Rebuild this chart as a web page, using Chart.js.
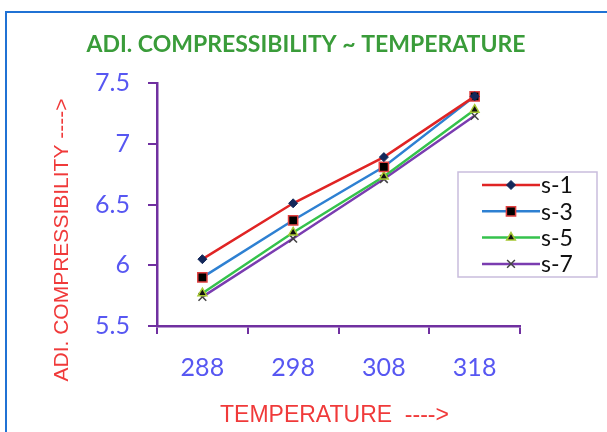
<!DOCTYPE html>
<html>
<head>
<meta charset="utf-8">
<script src="https://cdn.jsdelivr.net/npm/chart.js@4/dist/chart.umd.min.js"></script>
<style>
    html, body { margin: 0; padding: 0; background: #ffffff; }
    #wrap { width: 607px; height: 432px; }
</style>
</head>
<body>
<div id="wrap"><canvas id="chart" width="607" height="432"></canvas></div>
<script>
// data
const temperatures = ['288', '298', '308', '318'];
const seriesNames = ['s-1', 's-3', 's-5', 's-7'];
const s1 = [6.05, 6.51, 6.89, 7.39];
const s3 = [5.90, 6.37, 6.81, 7.39];
const s5 = [5.77, 6.27, 6.73, 7.28];
const s7 = [5.74, 6.22, 6.71, 7.23];
const yMin = 5.5, yMax = 7.5, yStep = 0.5;

const chartTitle = 'ADI. COMPRESSIBILITY ~ TEMPERATURE';
const xTitle = 'TEMPERATURE  ---->';
const yTitle = 'ADI. COMPRESSIBILITY ---->';

const AXIS = '#7030a0';
const TICK_TXT = '#5757f2';
const RED_TXT = '#f03a3a';

// frame, titles and the little legend box (Excel style)
const decor = {
    id: 'decor',
    beforeDraw(chart) {
        const ctx = chart.ctx;
        ctx.save();
        ctx.strokeStyle = '#2072d4';
        ctx.lineWidth = 2;
        ctx.strokeRect(6, 12, 700, 500);
        ctx.restore();
    },
    afterDraw(chart) {
        const ctx = chart.ctx;
        ctx.save();

        ctx.fillStyle = '#3a9c3a';
        ctx.font = 'bold 23px Lato';
        ctx.textAlign = 'center';
        ctx.textBaseline = 'middle';
        ctx.fillText(chartTitle, 306, 45);

        ctx.fillStyle = RED_TXT;
        ctx.font = '23px "Liberation Sans"';
        ctx.textAlign = 'left';
        ctx.fillText(xTitle, 220, 416);

        ctx.translate(62, 240);
        ctx.rotate(-Math.PI / 2);
        ctx.font = '21px "Liberation Sans"';
        ctx.textAlign = 'center';
        ctx.fillText(yTitle, 0, 0);
        ctx.restore();

        // legend
        ctx.save();
        ctx.fillStyle = '#ffffff';
        ctx.fillRect(458, 172, 139, 105);
        ctx.strokeStyle = '#c9bddd';
        ctx.lineWidth = 1.5;
        ctx.strokeRect(458, 172, 139, 105);
        chart.data.datasets.forEach((ds, i) => {
            const y = 185 + i * 26.3;
            ctx.strokeStyle = ds.borderColor;
            ctx.lineWidth = ds.borderWidth;
            ctx.beginPath();
            ctx.moveTo(482, y);
            ctx.lineTo(540, y);
            ctx.stroke();
            ctx.fillStyle = ds.pointBackgroundColor;
            ctx.strokeStyle = ds.pointBorderColor;
            ctx.lineWidth = ds.pointBorderWidth;
            Chart.helpers.drawPoint(ctx, {
                pointStyle: ds.pointStyle,
                radius: ds.pointRadius,
                rotation: 0,
                borderWidth: ds.pointBorderWidth
            }, 511, y);
            ctx.fillStyle = '#111111';
            ctx.font = '23px Lato';
            ctx.textAlign = 'left';
            ctx.textBaseline = 'middle';
            ctx.fillText(ds.label, 541, y + 1);
        });
        ctx.restore();
    }
};

function makeSeries(label, values, color, style, radius, fill, edge, edgeW) {
    return {
        label: label,
        data: values,
        borderColor: color,
        borderWidth: 2.5,
        pointStyle: style,
        pointRadius: radius,
        pointHoverRadius: radius,
        pointBackgroundColor: fill,
        pointBorderColor: edge,
        pointBorderWidth: edgeW,
        tension: 0,
        fill: false
    };
}

new Chart(document.getElementById('chart'), {
    type: 'line',
    data: {
        labels: temperatures,
        datasets: [
            makeSeries(seriesNames[0], s1, '#e02424', 'rectRot', 4.5, '#14285a', '#14285a', 1),
            makeSeries(seriesNames[1], s3, '#2e80d2', 'rect', 6.5, '#000000', '#e04040', 1.5),
            makeSeries(seriesNames[2], s5, '#35c24c', 'triangle', 5, '#111111', '#a6c832', 1.5),
            makeSeries(seriesNames[3], s7, '#7a3cb0', 'crossRot', 5.5, '#444444', '#444444', 1.5)
        ]
    },
    options: {
        responsive: false,
        animation: false,
        layout: { padding: { top: 83, right: 87, left: 0, bottom: 0 } },
        plugins: {
            legend: { display: false },
            title: { display: false },
            tooltip: { enabled: false }
        },
        scales: {
            x: {
                type: 'category',
                offset: true,
                grid: {
                    offset: true,
                    drawOnChartArea: false,
                    drawTicks: true,
                    tickLength: 8,
                    color: AXIS,
                    lineWidth: 2
                },
                border: { color: AXIS, width: 2.5 },
                ticks: {
                    color: TICK_TXT,
                    font: { family: 'Lato', size: 25 },
                    padding: 19,
                    maxRotation: 0
                },
                afterFit(scale) { scale.height = 106; }
            },
            y: {
                min: yMin,
                max: yMax,
                grid: {
                    drawOnChartArea: false,
                    drawTicks: true,
                    tickLength: 9,
                    color: AXIS,
                    lineWidth: 2
                },
                border: { color: AXIS, width: 2.5 },
                ticks: {
                    stepSize: yStep,
                    color: TICK_TXT,
                    font: { family: 'Lato', size: 25 },
                    padding: 18,
                    callback: (v) => String(v)
                },
                afterFit(scale) { scale.width = 157; }
            }
        }
    },
    plugins: [decor]
});
</script>
</body>
</html>
